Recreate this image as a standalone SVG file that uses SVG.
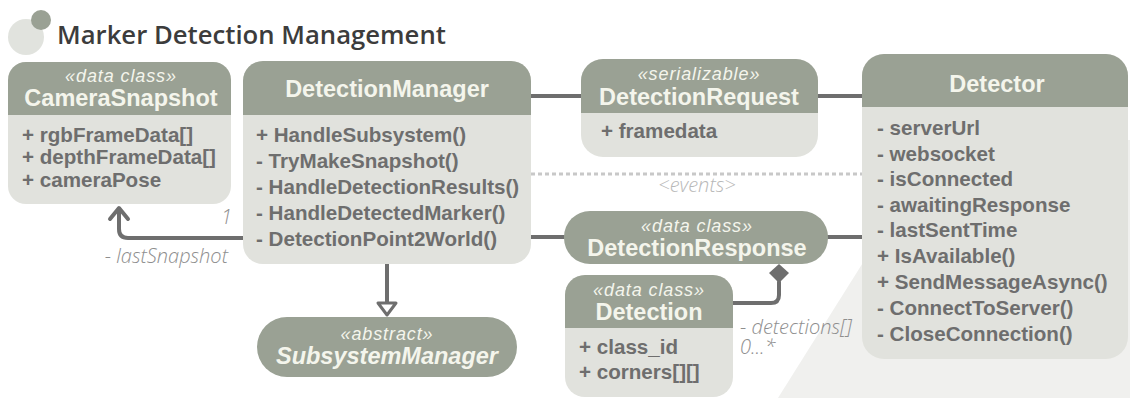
<svg xmlns="http://www.w3.org/2000/svg" width="1130" height="398" viewBox="0 0 1130 398">
<style>
.hdr{fill:#9aa194}
.bdy{fill:#e1e2dd}
.st{font-family:"Liberation Sans",Arial,sans-serif;font-style:italic;font-size:18px;letter-spacing:0.9px;fill:#f4f5ec;text-anchor:middle}
.tt{font-family:"Liberation Sans",Arial,sans-serif;font-weight:bold;font-size:23.5px;fill:#f4f5ec;text-anchor:middle}
.it{font-family:"Liberation Sans",Arial,sans-serif;font-weight:bold;font-size:20.6px;fill:#6e6e6e}
.conn{stroke:#6e6e6e;stroke-width:4;fill:none;stroke-linecap:round;stroke-linejoin:round}
.lbl{font-family:"Open Sans",sans-serif;font-style:italic;font-weight:300;font-size:20px;fill:#8e8e8e}
</style>
<rect width="1130" height="398" fill="#ffffff"/>
<polygon points="778,398 940,140 1130,140 1130,398" fill="#f0f0ee"/>
<g id="title">
<circle cx="26" cy="37" r="18" fill="#e1e3de"/>
<circle cx="41" cy="20" r="10" fill="#9aa194"/>
<text x="57" y="44" font-family="'Open Sans',sans-serif" font-weight="600" font-size="25.7" fill="#3c3c3c">Marker Detection Management</text>
</g>
<g id="connectors">
<line class="conn" x1="531" y1="96" x2="581" y2="96" stroke-linecap="butt"/>
<line class="conn" x1="818" y1="96" x2="862" y2="96" stroke-linecap="butt"/>
<line x1="531" y1="174" x2="862" y2="174" stroke="#c8c8c8" stroke-width="3" stroke-dasharray="4 3"/>
<line class="conn" x1="531" y1="237" x2="564" y2="237" stroke-linecap="butt"/>
<line class="conn" x1="828" y1="237" x2="862" y2="237" stroke-linecap="butt"/>
<path class="conn" d="M243,238 H128 Q119,238 119,229 V209"/>
<polyline class="conn" points="110,219 119,208 128,219"/>
<line class="conn" x1="387" y1="264" x2="387" y2="303" stroke-linecap="butt"/>
<polygon points="378,303 396,303 387,315" fill="#ffffff" stroke="#6e6e6e" stroke-width="3" stroke-linejoin="round"/>
<path class="conn" d="M733,303 H771 Q779,303 779,295 V282"/>
<polygon points="779,264 789,273 779,283 769,273" fill="#6e6e6e"/>
<text class="lbl" x="232" y="224" text-anchor="end">1</text>
<text class="lbl" x="228" y="263" text-anchor="end">- lastSnapshot</text>
<text class="lbl" x="697" y="192" text-anchor="middle" style="fill:#b8b8b8">&lt;events&gt;</text>
<text class="lbl" x="740" y="334">- detections[]<tspan x="740" y="354">0...*</tspan></text>
</g>
<g id="CameraSnapshot">
<rect class="bdy" x="8" y="62" width="223" height="142" rx="18"/>
<path class="hdr" d="M8,115 V80 A18,18 0 0 1 26,62 H213 A18,18 0 0 1 231,80 V115 Z"/>
<text class="st" x="121" y="82">«data class»</text>
<text class="tt" x="121" y="106">CameraSnapshot</text>
<text class="it" x="22" y="142">+ rgbFrameData[]</text>
<text class="it" x="22" y="164">+ depthFrameData[]</text>
<text class="it" x="22" y="187">+ cameraPose</text>
</g>
<g id="DetectionManager">
<rect class="bdy" x="243" y="61" width="288" height="203" rx="20"/>
<path class="hdr" d="M243,115 V81 A20,20 0 0 1 263,61 H511 A20,20 0 0 1 531,81 V115 Z"/>
<text class="tt" x="387" y="97">DetectionManager</text>
<text class="it" x="256" y="142">+ HandleSubsystem()</text>
<text class="it" x="256" y="168">- TryMakeSnapshot()</text>
<text class="it" x="256" y="194">- HandleDetectionResults()</text>
<text class="it" x="256" y="220">- HandleDetectedMarker()</text>
<text class="it" x="256" y="246">- DetectionPoint2World()</text>
</g>
<g id="DetectionRequest">
<rect class="bdy" x="581" y="59" width="237" height="98" rx="22"/>
<path class="hdr" d="M581,113 V81 A22,22 0 0 1 603,59 H796 A22,22 0 0 1 818,81 V113 Z"/>
<text class="st" x="699" y="80">«serializable»</text>
<text class="tt" x="699" y="105">DetectionRequest</text>
<text class="it" x="601" y="138">+ framedata</text>
</g>
<g id="Detector">
<rect class="bdy" x="862" y="54" width="266" height="305" rx="22"/>
<path class="hdr" d="M862,107 V76 A22,22 0 0 1 884,54 H1106 A22,22 0 0 1 1128,76 V107 Z"/>
<text class="tt" x="997" y="92">Detector</text>
<text class="it" x="877" y="135">- serverUrl</text>
<text class="it" x="877" y="161">- websocket</text>
<text class="it" x="877" y="186">- isConnected</text>
<text class="it" x="877" y="212">- awaitingResponse</text>
<text class="it" x="877" y="237">- lastSentTime</text>
<text class="it" x="877" y="263">+ IsAvailable()</text>
<text class="it" x="877" y="289">+ SendMessageAsync()</text>
<text class="it" x="877" y="315">- ConnectToServer()</text>
<text class="it" x="877" y="341">- CloseConnection()</text>
</g>
<g id="DetectionResponse">
<rect class="hdr" x="564" y="211" width="264" height="53" rx="26"/>
<text class="st" x="697" y="232">«data class»</text>
<text class="tt" x="697" y="256">DetectionResponse</text>
</g>
<g id="Detection">
<rect class="bdy" x="565" y="275" width="168" height="122" rx="20"/>
<path class="hdr" d="M565,328 V295 A20,20 0 0 1 585,275 H713 A20,20 0 0 1 733,295 V328 Z"/>
<text class="st" x="649" y="296">«data class»</text>
<text class="tt" x="649" y="320">Detection</text>
<text class="it" x="579" y="354">+ class_id</text>
<text class="it" x="579" y="379">+ corners[][]</text>
</g>
<g id="SubsystemManager">
<rect class="hdr" x="257" y="317" width="260" height="60" rx="30"/>
<text class="st" x="387" y="340">«abstract»</text>
<text class="tt" x="387" y="364" font-style="italic">SubsystemManager</text>
</g>
</svg>
